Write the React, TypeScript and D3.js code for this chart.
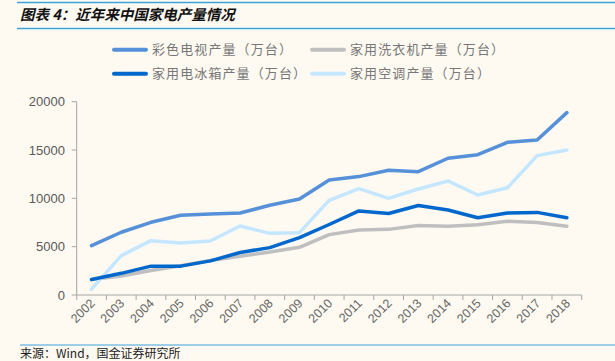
import React from "react";
import * as d3 from "d3";

const years = ["2002","2003","2004","2005","2006","2007","2008","2009","2010","2011","2012","2013","2014","2015","2016","2017","2018"];
const tvValues = [5100,6490,7520,8250,8380,8490,9280,9940,11900,12250,12900,12760,14150,14520,15800,16040,18870];
const washerValues = [1596,1964,2533,3036,3561,4005,4447,4935,6248,6716,6791,7202,7114,7275,7621,7500,7121];
const fridgeValues = [1600,2242,2987,2987,3530,4397,4900,5930,7296,8699,8427,9261,8796,7993,8481,8548,7993];
const acValues = [600,4070,5620,5380,5590,7140,6380,6450,9800,11000,10000,10970,11800,10350,11100,14420,15010];
const yTicks = [0,5000,10000,15000,20000];

const series = [
  { name: "彩色电视产量（万台）", values: tvValues, color: "#5590D8" },
  { name: "家用洗衣机产量（万台）", values: washerValues, color: "#BFBFBF" },
  { name: "家用电冰箱产量（万台）", values: fridgeValues, color: "#0068CC" },
  { name: "家用空调产量（万台）", values: acValues, color: "#C4E6FF" },
];

// draw order: gray under the others
const drawOrder = [1, 3, 2, 0];

const W = 615, H = 361;
const left = 76.7, right = 581.7, top = 101.7, bottom = 295;
const cjk = "'Noto Sans CJK SC', sans-serif";
const latin = "'Liberation Sans', Arial, sans-serif";

export default function App() {
  const x = d3.scaleBand().domain(years).range([left, right]);
  const y = d3.scaleLinear().domain([0, 20000]).range([bottom, top]);
  const line = d3.line<number>()
    .x((_, i) => (x(years[i]) as number) + x.bandwidth() / 2)
    .y(v => y(v));

  const legendPos = [
    { x: 114, y: 49.7 },
    { x: 312, y: 49.7 },
    { x: 114, y: 73.7 },
    { x: 312, y: 73.7 },
  ];

  const boundaries = years.map(yr => x(yr) as number).concat([right]);

  return (
    <div style={{ position: "fixed", left: 0, top: 0 }}>
      <svg width={W} height={H} style={{ display: "block", background: "#FEFAF1" }}>
        {/* title */}
        <line x1={17} x2={W} y1={2.5} y2={2.5} stroke="#3BA4DE" strokeWidth={1.5} />
        <text x={20} y={20} fontFamily={cjk} fontSize={14.5} fontWeight="bold" fontStyle="italic" fill="#111">
          图表 4：近年来中国家电产量情况
        </text>
        <line x1={17} x2={W} y1={28.5} y2={28.5} stroke="#3BA4DE" strokeWidth={1.5} />

        {/* legend */}
        {series.map((s, i) => (
          <g key={s.name}>
            <line x1={legendPos[i].x} x2={legendPos[i].x + 32} y1={legendPos[i].y} y2={legendPos[i].y}
              stroke={s.color} strokeWidth={4} strokeLinecap="round" />
            <text x={legendPos[i].x + 38} y={legendPos[i].y + 4.5} fontFamily={cjk} fontSize={13}
              letterSpacing={1.1} fill="#777">{s.name}</text>
          </g>
        ))}

        {/* y axis */}
        <line x1={left} x2={left} y1={top} y2={bottom} stroke="#A6A6A6" />
        {yTicks.map(t => (
          <g key={t}>
            <line x1={left - 5} x2={left} y1={y(t)} y2={y(t)} stroke="#A6A6A6" />
            <text x={65} y={y(t) + 4.5} textAnchor="end" fontFamily={latin} fontSize={13} fill="#595959">{t}</text>
          </g>
        ))}

        {/* x axis */}
        <line x1={left} x2={right} y1={bottom} y2={bottom} stroke="#A6A6A6" />
        {boundaries.map((b, i) => (
          <line key={i} x1={b} x2={b} y1={bottom} y2={bottom + 5} stroke="#A6A6A6" />
        ))}
        {years.map(yr => {
          const cx = (x(yr) as number) + x.bandwidth() / 2 + 4;
          const cy = bottom + 9;
          return (
            <text key={yr} x={cx} y={cy} textAnchor="end" fontFamily={latin} fontSize={12.5} fill="#666"
              transform={`rotate(-45 ${cx} ${cy})`}>{yr}</text>
          );
        })}

        {/* lines */}
        {drawOrder.map(i => (
          <path key={i} d={line(series[i].values) || ""} fill="none" stroke={series[i].color}
            strokeWidth={3.5} strokeLinejoin="round" strokeLinecap="round" />
        ))}

        {/* source */}
        <line x1={20} x2={W} y1={345} y2={345} stroke="#3BA4DE" strokeWidth={1.2} />
        <text x={20} y={358} fontFamily={cjk} fontSize={12} fill="#222">来源：Wind，国金证券研究所</text>
      </svg>
    </div>
  );
}
